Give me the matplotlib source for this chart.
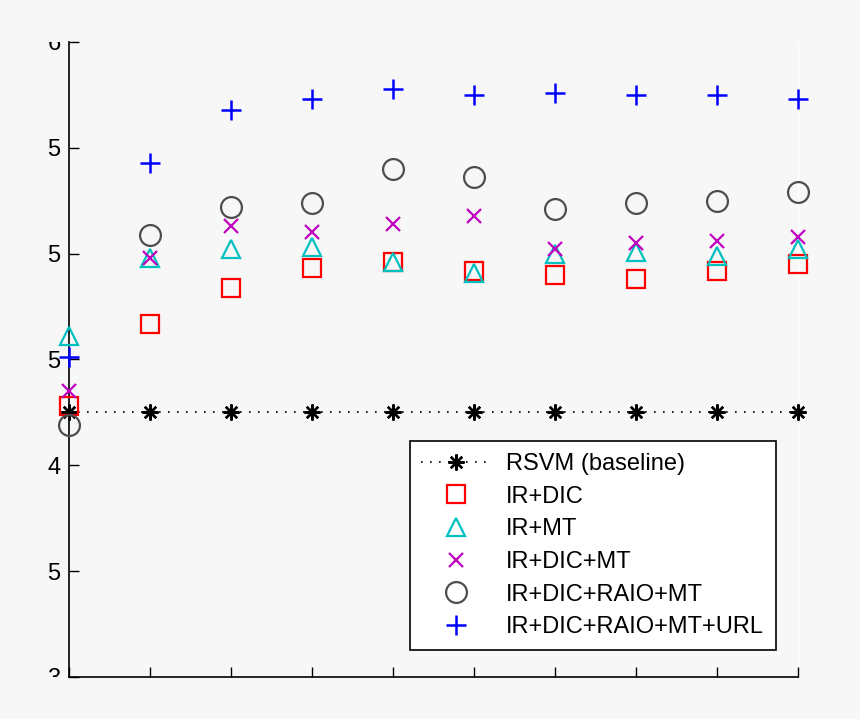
import matplotlib
matplotlib.use("Agg")
import matplotlib.pyplot as plt
from matplotlib.transforms import Bbox

plt.rcParams['font.family'] = ['Liberation Sans', 'DejaVu Sans']

# data
x = [1, 2, 3, 4, 5, 6, 7, 8, 9, 10]
rsvm = [0.425] * 10
ir_dic = [0.428, 0.467, 0.484, 0.493, 0.496, 0.492, 0.490, 0.488, 0.492, 0.495]
ir_mt = [0.461, 0.498, 0.502, 0.503, 0.496, 0.491, 0.500, 0.501, 0.499, 0.502]
ir_dic_mt = [0.435, 0.498, 0.513, 0.510, 0.514, 0.518, 0.502, 0.505, 0.506, 0.508]
ir_dic_raio_mt = [0.419, 0.509, 0.522, 0.524, 0.540, 0.536, 0.521, 0.524, 0.525, 0.529]
ir_dic_raio_mt_url = [0.451, 0.543, 0.568, 0.573, 0.578, 0.575, 0.576, 0.575, 0.575, 0.573]

yticks = [0.30, 0.35, 0.40, 0.45, 0.50, 0.55, 0.60]
ytick_labels = ['3', '5', '4', '5', '5', '5', '6']

bg = '#f7f7f7'
fig = plt.figure(figsize=(8.6, 7.19), dpi=100, facecolor=bg)
ax = fig.add_axes([69 / 860, 42 / 719, 729 / 860, 635 / 719], facecolor=bg)

ax.plot(x, rsvm, color='black', linestyle=(0, (1, 4.4)), linewidth=1.2,
        marker=(8, 2, 0), markersize=11.5, markeredgewidth=1.7,
        label='RSVM (baseline)', clip_on=False, zorder=3)
ax.plot(x, ir_dic, linestyle='none', marker='s', markersize=12.5,
        markerfacecolor='none', markeredgecolor='#ff0000', markeredgewidth=1.6,
        label='IR+DIC', clip_on=False, zorder=3)
ax.plot(x, ir_mt, linestyle='none', marker='^', markersize=13,
        markerfacecolor='none', markeredgecolor='#00bfbf', markeredgewidth=1.6,
        label='IR+MT', clip_on=False, zorder=3)
ax.plot(x, ir_dic_mt, linestyle='none', marker='x', markersize=10,
        markeredgecolor='#bf00bf', markeredgewidth=1.6,
        label='IR+DIC+MT', clip_on=False, zorder=3)
ax.plot(x, ir_dic_raio_mt, linestyle='none', marker='o', markersize=15,
        markerfacecolor='none', markeredgecolor='#4d4d4d', markeredgewidth=1.6,
        label='IR+DIC+RAIO+MT', clip_on=False, zorder=3)
ax.plot(x, ir_dic_raio_mt_url, linestyle='none', marker='+', markersize=14.5,
        markeredgecolor='#0000ff', markeredgewidth=1.8,
        label='IR+DIC+RAIO+MT+URL', clip_on=False, zorder=3)

ax.set_xlim(1, 10)
ax.set_ylim(0.30, 0.60)
ax.set_xticks(x)
ax.set_xticklabels([''] * len(x))
ax.set_yticks(yticks)
ax.set_yticklabels(ytick_labels)
ax.tick_params(direction='in', length=7, width=1, labelsize=17, pad=6, colors='black')

ax.spines['top'].set_visible(False)
ax.spines['right'].set_color('white')
ax.spines['right'].set_linewidth(1)
ax.spines['right'].set_zorder(1)
ax.spines['left'].set_linewidth(1.2)
ax.spines['bottom'].set_linewidth(1.2)

leg = ax.legend(loc='lower right', bbox_to_anchor=(0.970, 0.0425), borderaxespad=0,
                fontsize=17, numpoints=1, handlelength=2.9, handletextpad=0.7,
                labelspacing=0.45, fancybox=False, framealpha=1, facecolor='white',
                edgecolor='black', borderpad=0.5)
leg.get_frame().set_linewidth(1.2)
leg.set_zorder(5)

# tick labels are cut at the axes' top and bottom edge, as in the reference
fig.canvas.draw()
p = ax.get_window_extent()
clip = Bbox.from_extents(0, p.y0, p.x0, p.y1)
for lab in ax.get_yticklabels():
    lab.set_clip_on(True)
    lab.set_clip_box(clip)

fig.savefig('out.png', dpi=100, facecolor=bg)
